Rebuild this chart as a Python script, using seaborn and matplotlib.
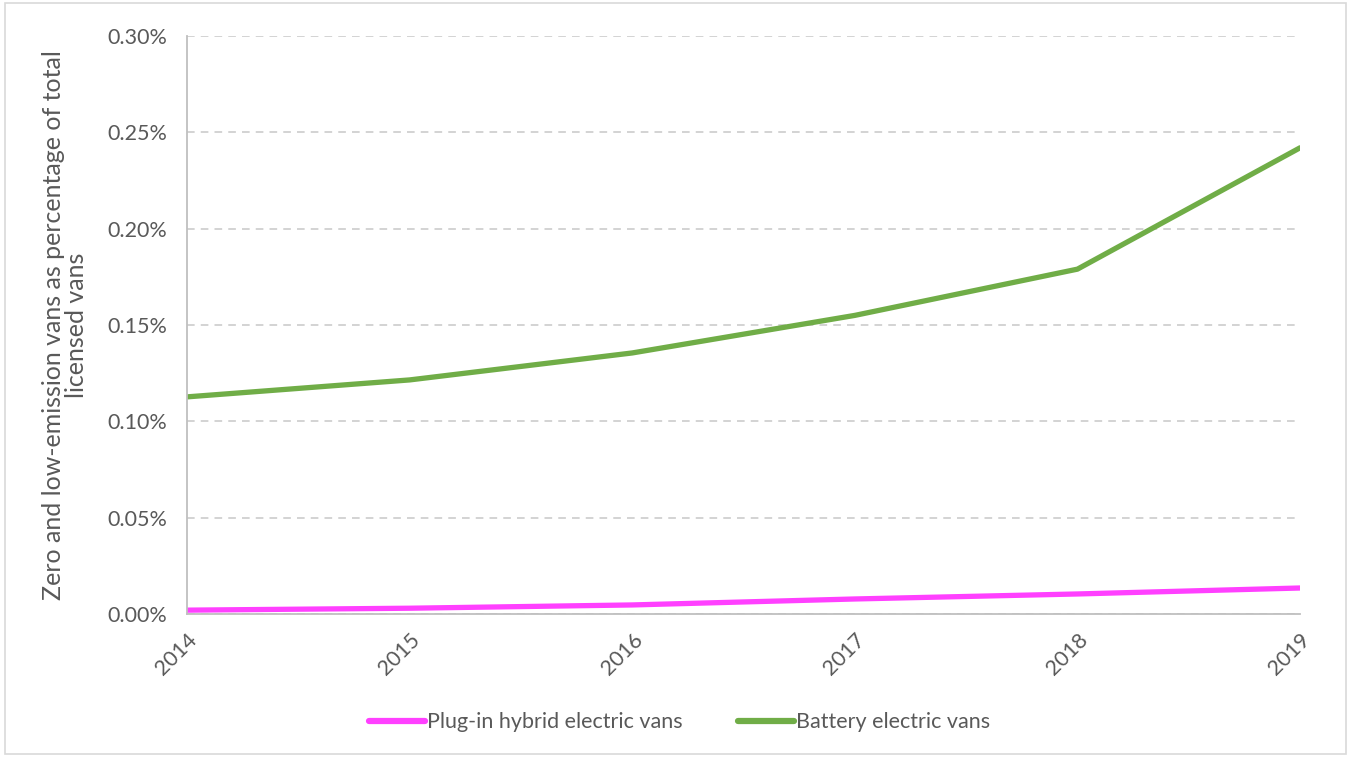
import matplotlib
matplotlib.use("Agg")
import matplotlib.pyplot as plt
import matplotlib.patches as mpatches
from matplotlib.ticker import FuncFormatter, MultipleLocator
import seaborn as sns
import pandas as pd

years = [2014, 2015, 2016, 2017, 2018, 2019]
phev_share = [0.0020, 0.0030, 0.0047, 0.0078, 0.0104, 0.0135]
bev_share = [0.1127, 0.1215, 0.1355, 0.1550, 0.1790, 0.2420]
series_names = ["Plug-in hybrid electric vans", "Battery electric vans"]
series_colors = ["#FF40FF", "#70AD47"]

df = pd.DataFrame({
    "year": years * 2,
    "share": phev_share + bev_share,
    "series": [series_names[0]] * len(years) + [series_names[1]] * len(years),
})

sns.set_theme(style="white")
plt.rcParams["font.family"] = ["Lato", "DejaVu Sans"]
text_color = "#595959"
grid_color = "#C8C8C8"

fig = plt.figure(figsize=(13.51, 7.57), dpi=100)
ax = fig.add_axes([0.1384, 0.1889, 0.9623 - 0.1384, 0.9524 - 0.1889])

sns.lineplot(data=df, x="year", y="share", hue="series", hue_order=series_names,
             palette=series_colors, linewidth=3.8, ax=ax, legend=False,
             solid_capstyle="round")

ax.set_xlim(2014, 2019)
ax.set_ylim(0, 0.30)
ax.yaxis.set_major_locator(MultipleLocator(0.05))
ax.yaxis.set_major_formatter(FuncFormatter(lambda v, _: f"{v:.2f}%"))
ax.set_xticks(years)
ax.set_xticklabels([str(y) for y in years], rotation=45, ha="right",
                   rotation_mode="anchor")

ax.grid(axis="y", color=grid_color, linestyle=(0, (5, 4)), linewidth=1.1)
ax.set_axisbelow(True)
for side in ["top", "right"]:
    ax.spines[side].set_visible(False)
for side in ["left", "bottom"]:
    ax.spines[side].set_color("#BFBFBF")
    ax.spines[side].set_linewidth(1.3)

ax.tick_params(axis="x", which="major", length=8, width=1.2, color="#BFBFBF",
               direction="out", labelsize=15.5, labelcolor=text_color, pad=3)
ax.tick_params(axis="y", length=0, labelsize=15.5, labelcolor=text_color, pad=14)

ax.set_xlabel("")
ax.set_ylabel("Zero and low-emission vans as percentage of total\nlicensed vans",
              fontsize=18, color=text_color, labelpad=14, linespacing=1.0)

handles = [plt.Line2D([0], [0], color=c, linewidth=4.5, solid_capstyle="round")
           for c in series_colors]
fig.legend(handles, series_names, loc="center", bbox_to_anchor=(0.503, 0.046),
           ncol=2, frameon=False, fontsize=15.5, labelcolor=text_color,
           handlelength=2.6, handletextpad=0.1, columnspacing=2.6)

border = mpatches.Rectangle((0.004, 0.004), 0.992, 0.992, transform=fig.transFigure,
                            fill=False, edgecolor="#D9D9D9", linewidth=1.2)
fig.patches.append(border)

fig.savefig("out.png", dpi=100, facecolor="white")
